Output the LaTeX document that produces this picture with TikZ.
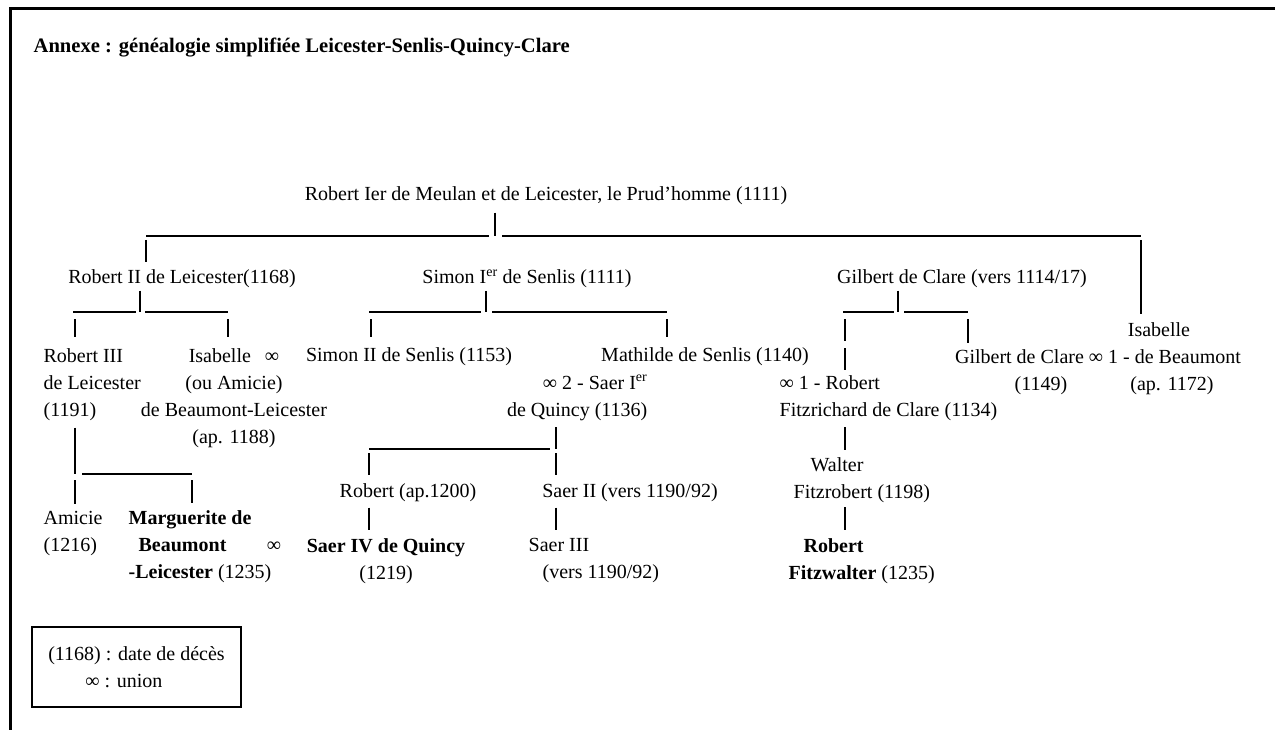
\documentclass[tikz,border=0pt]{standalone}
\usepackage{fontspec}
\setmainfont{Liberation Serif}

\begin{document}
\begin{tikzpicture}[x=1pt,y=-1pt,line width=1.3pt,
	every node/.style={inner sep=0pt,font=\fontsize{20}{27}\selectfont},
	legend/.style={draw,line width=1.2pt,minimum width=209pt,minimum height=80pt,align=left}]
	\useasboundingbox (0,0) rectangle (1275,730);
	\draw[line width=3pt] (10.8,730) -- (10.8,8.7) -- (1275,8.7);

	\node[anchor=west,font=\fontsize{20.6}{26}\selectfont\bfseries] (title) at (33,48) {Annexe : généalogie simplifiée Leicester-Senlis-Quincy-Clare};

	\node (root) at (546,196) {Robert Ier de Meulan et de Leicester, le Prud'homme (1111)};
	\node (rob2) at (182,279) {Robert II de Leicester(1168)};
	\node (simon) at (527,279) {Simon I\textsuperscript{er} de Senlis (1111)};
	\node (gilbert) at (962,279) {Gilbert de Clare (vers 1114/17)};

	\node[anchor=west,align=left] (rob3) at (43,385) {Robert III\\de Leicester\\(1191)};
	\node[align=center] (isab) at (234,398.5) {Isabelle\hspace{14pt}∞\\(ou Amicie)\\de Beaumont-Leicester\\(ap. 1188)};
	\node (simon2) at (409,357) {Simon II de Senlis (1153)};
	\node (mathilde) at (705,357) {Mathilde de Senlis (1140)};
	\node[anchor=east,align=right] (saer1) at (648,398) {∞ 2 - Saer I\textsuperscript{er}\\de Quincy (1136)};
	\node[anchor=west,align=left] (robfitz) at (779,398) {∞ 1 - Robert\\Fitzrichard de Clare (1134)};
	\node (isab2) at (1159,330) {Isabelle};
	\node (gilb2) at (1098,357) {Gilbert de Clare ∞ 1 - de Beaumont};
	\node (d1149) at (1041,386) {(1149)};
	\node (d1172) at (1172,386) {(ap. 1172)};

	\node (robap) at (408,493) {Robert (ap.1200)};
	\node (saer2) at (630,493) {Saer II (vers 1190/92)};
	\node[anchor=west,align=left] (walter) at (793,480) {\hspace*{17pt}Walter\\Fitzrobert (1198)};

	\node[anchor=west,align=left] (amicie) at (43,534) {Amicie\\(1216)};
	\node[anchor=west,align=left] (marg) at (128,547) {\textbf{Marguerite de}\\\hspace*{10pt}\textbf{Beaumont}\\\textbf{-Leicester} (1235)};
	\node (union) at (274,547) {∞};
	\node[align=center] (saer4) at (386,561) {\textbf{Saer IV de Quincy}\\(1219)};
	\node[anchor=west,align=left] (saer3) at (528,561) {Saer III\\\hspace*{14pt}(vers 1190/92)};
	\node[anchor=west,align=left] (robfw) at (788,561) {\hspace*{15pt}\textbf{Robert}\\\textbf{Fitzwalter} (1235)};

	\node[legend] (legend) at (136.5,667) {(1168) : date de décès\\\hspace*{37pt}∞ : union};

	\coordinate (jr) at (495,236);
	\coordinate (brL) at (146,236);
	\coordinate (brR) at (1141,236);
	\draw[shorten <=7pt] (root.south -| jr) -- (jr);
	\draw (brL) -- ([xshift=-6pt]jr);
	\draw ([xshift=7pt]jr) -- (brR);
	\draw[shorten <=4pt,shorten >=7pt] (brL) -- (brL |- rob2.north);
	\draw[shorten <=4pt,shorten >=8pt] (brR) -- (brR |- isab2.north);

	\coordinate (j1) at (140,312);
	\coordinate (b1L) at (75,312);
	\coordinate (b1R) at (228,312);
	\draw[shorten <=2pt] (rob2.south -| j1) -- (j1);
	\draw ([xshift=-2pt]b1L) -- ([xshift=-4pt]j1);
	\draw ([xshift=5pt]j1) -- (b1R);
	\draw[shorten <=7pt,shorten >=11pt] (b1L) -- (b1L |- rob3.north);
	\draw[shorten <=7pt,shorten >=11pt] (b1R) -- (b1R |- isab.north);

	\coordinate (j2) at (486,312);
	\coordinate (b2L) at (371,312);
	\coordinate (b2R) at (667,312);
	\draw[shorten <=2pt] (simon.south -| j2) -- (j2);
	\draw ([xshift=-2pt]b2L) -- ([xshift=-5pt]j2);
	\draw ([xshift=6pt]j2) -- (b2R);
	\draw[shorten <=7pt,shorten >=10pt] (b2L) -- (b2L |- simon2.north);
	\draw[shorten <=7pt,shorten >=10pt] (b2R) -- (b2R |- mathilde.north);

	\coordinate (j3) at (898,312);
	\coordinate (b3L) at (845,312);
	\coordinate (b3R) at (968,312);
	\draw[shorten <=2pt] (gilbert.south -| j3) -- (j3);
	\draw ([xshift=-2pt]b3L) -- ([xshift=-4pt]j3);
	\draw ([xshift=6pt]j3) -- (b3R);
	\draw[shorten <=7pt,shorten >=5pt,dash pattern=on 22pt off 7pt] (b3L) -- (b3L |- robfitz.north);
	\draw[shorten <=7pt,shorten >=6pt] (b3R) -- (b3R |- gilb2.north);

	\coordinate (j4) at (556,449);
	\coordinate (b4L) at (369,449);
	\draw[shorten <=6pt] (saer1.south -| j4) -- (j4);
	\draw (b4L) -- ([xshift=-6pt]j4);
	\draw[shorten <=4pt,shorten >=8pt] (b4L) -- (b4L |- robap.north);
	\draw[shorten <=4pt,shorten >=8pt] (j4) -- (j4 |- saer2.north);
	\draw[shorten <=5pt,shorten >=8pt] (robap.south -| b4L) -- (b4L |- saer4.north);
	\draw[shorten <=5pt,shorten >=8pt] (saer2.south -| j4) -- (j4 |- saer3.north);

	\coordinate (j5) at (75,474);
	\coordinate (b5R) at (192,474);
	\draw[shorten <=6pt] (rob3.south -| j5) -- (j5);
	\draw ([xshift=7pt]j5) -- (b5R);
	\draw[shorten <=6pt,shorten >=7pt] (j5) -- (j5 |- amicie.north);
	\draw[shorten <=6pt,shorten >=7pt] (b5R) -- (b5R |- marg.north);

	\draw[shorten <=6pt,shorten >=7pt] (robfitz.south -| b3L) -- (b3L |- walter.north);
	\draw[shorten <=4pt,shorten >=8pt] (walter.south -| b3L) -- (b3L |- robfw.north);
\end{tikzpicture}
\end{document}
